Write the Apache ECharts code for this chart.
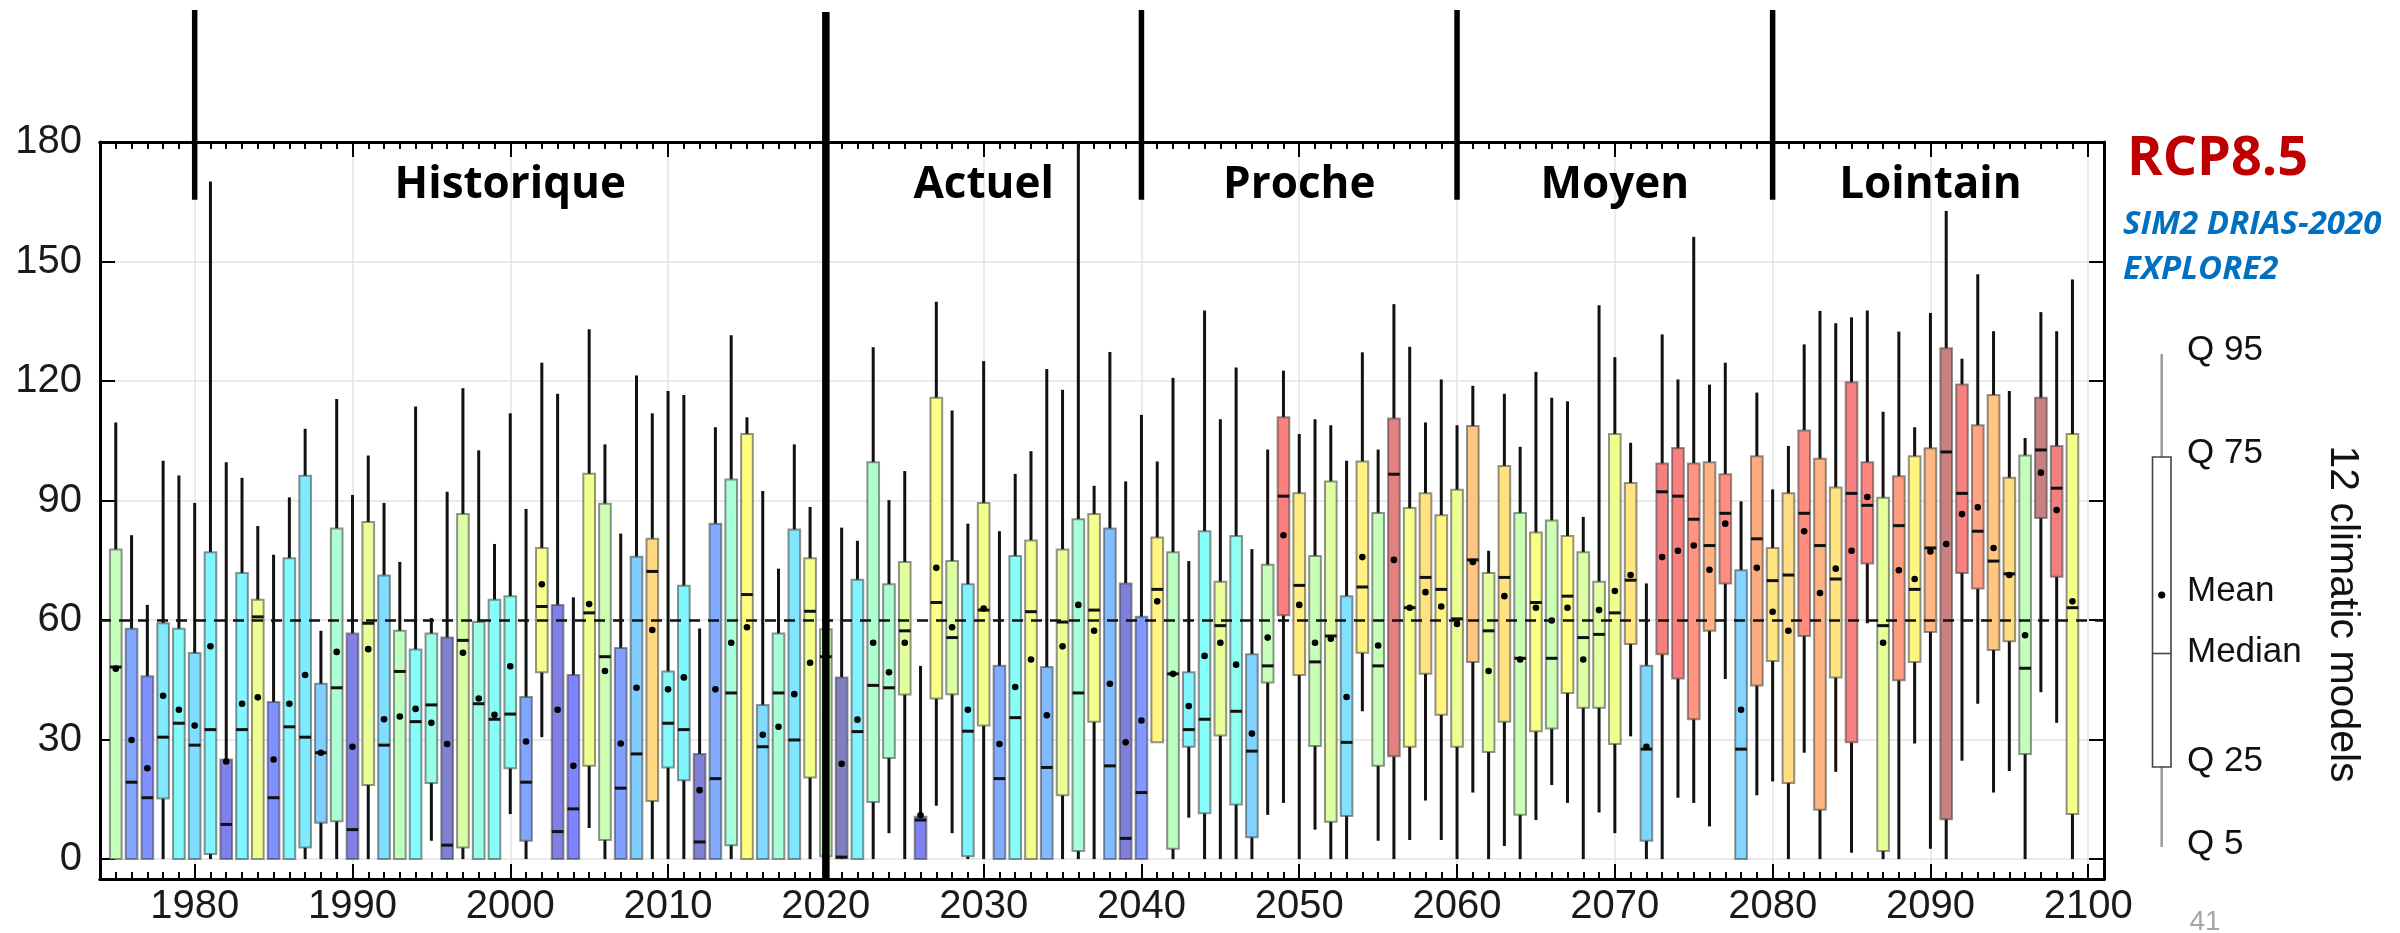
<!DOCTYPE html>
<html>
<head>
<meta charset="utf-8">
<title>RCP8.5 - 12 climatic models</title>
<script src="https://cdn.jsdelivr.net/npm/echarts@6/dist/echarts.min.js"></script>
<style>
  html, body { margin: 0; padding: 0; background: #fff; }
  #chart { width: 2400px; height: 933px; }
</style>
</head>
<body>
<div id="chart"></div>
<script>
// one box per year, starting at firstYear
var firstYear = 1975

var q5 = [
  0, 0, 0, 0, 0, 0, 0, 0, 0, 0,
  0, 0, 0, 0, 0, 0, 0, 0, 0, 0,
  4.6, 0, 0, 0, 0, 11.3, 0, 30.6, 0, 0,
  7.8, 0, 0, 0, 0, 0, 0, 0, 0, 0,
  0, 0, 0, 0, 0, 0, 0, 0, 0, 6.5,
  0, 0, 13.4, 6.5, 0, 0, 0, 0, 0, 0,
  0, 0, 0, 0, 0, 0, 29.3, 0, 10.4, 0,
  0, 0, 0, 11.1, 14.1, 0, 7.4, 0, 0, 37.1,
  4.6, 0, 4.8, 14.7, 4.8, 0, 16.7, 0, 3.3, 0,
  9.8, 18.6, 14.1, 0, 11.7, 6.5, 30.8, 0, 0, 15.4,
  14.1, 8.2, 45.2, 0, 16, 19.5, 0, 26.7, 0, 21.9,
  1.6, 59.2, 0, 0, 29, 2.6, 0, 24.7, 39, 16.7,
  22.1, 0, 41.9, 34.2, 0
]
var q25 = [
  0, 0, 0, 15.2, 0, 0, 1.3, 0, 0, 0,
  0, 0, 2.9, 9.1, 9.5, 0, 18.6, 0, 0, 0,
  19.1, 0, 2.9, 0, 0, 22.8, 4.6, 46.9, 0, 0,
  23.4, 4.8, 0, 0, 14.6, 23, 19.8, 0, 0, 3.5,
  0, 0, 0, 0, 20.5, 0.7, 0.2, 0, 14.3, 25.4,
  41.3, 0, 40.3, 41.4, 0.7, 33.5, 0, 0, 0, 0,
  16, 2, 34.5, 0, 0, 0, 29.3, 2.6, 28.2, 11.5,
  31, 13.7, 5.5, 44.3, 61.2, 46.2, 28.4, 9.4, 10.8, 51.8,
  23.4, 25.8, 28.2, 46.5, 36.2, 28.2, 49.5, 26.9, 34.5, 11.1,
  32.1, 32.8, 41.7, 38, 38, 28.9, 54, 4.6, 51.4, 45.3,
  35.1, 57.3, 69.2, 0, 43.6, 49.7, 19.1, 56, 12.4, 45.6,
  29.3, 74.2, 2, 44.9, 49.5, 57, 10, 71.8, 67.9, 52.5,
  54.7, 26.4, 85.6, 70.9, 11.3
]
var median = [
  48.2, 19.3, 15.4, 30.6, 34.1, 28.6, 32.5, 8.7, 32.5, 60.8,
  15.4, 33.2, 30.6, 26.7, 43, 7.4, 59.2, 28.6, 47.1, 34.5,
  38.7, 3.5, 54.9, 39, 35.1, 36.4, 19.3, 63.4, 6.9, 12.6,
  61.8, 50.8, 17.8, 26.4, 72.2, 34.1, 32.5, 4.3, 20.2, 41.7,
  66.4, 28.2, 41.7, 29.9, 62.2, 50.8, 0.5, 32, 43.6, 43,
  57.3, 9.8, 64.4, 55.6, 32.1, 62.5, 20.2, 35.5, 62.1, 23,
  59.5, 41.7, 62.5, 23.4, 5.2, 16.7, 67.7, 46.5, 32.5, 35.1,
  58.6, 37.1, 27.1, 48.5, 91.1, 68.7, 49.5, 56, 29.3, 68.3,
  48.5, 96.6, 63.1, 70.7, 67.7, 60.3, 75.1, 57.3, 70.7, 50.4,
  64.4, 50.4, 66, 55.6, 56.4, 61.8, 70, 27.6, 92.2, 91.1,
  85.3, 78.7, 86.8, 27.6, 80.4, 69.9, 71.3, 86.8, 78.7, 70.3,
  91.8, 88.8, 58.6, 83.7, 67.7, 78.1, 102.2, 91.8, 82.3, 74.8,
  71.6, 47.9, 102.7, 93.1, 63.1
]
var mean = [
  47.8, 29.9, 22.8, 41, 37.5, 33.5, 53.4, 24.5, 39, 40.6,
  25, 39, 46.2, 26.7, 52, 28.2, 52.7, 35.1, 35.8, 37.7,
  34.2, 28.9, 51.8, 40.3, 36.2, 48.4, 29.5, 69, 37.5, 23.4,
  64, 47.2, 29, 43, 57.5, 42.6, 45.6, 17.3, 42.6, 54.3,
  58.2, 31.2, 33.2, 41.4, 49.3, 36.2, 23.9, 35, 54.3, 46.9,
  54.3, 11, 73.1, 58.2, 37.5, 62.9, 28.9, 43.2, 50.1, 36.1,
  53.4, 63.8, 57.3, 44, 29.3, 34.8, 64.7, 46.5, 38.4, 51,
  54.3, 48.8, 31.5, 55.6, 81.3, 63.8, 54.3, 55.3, 40.7, 75.8,
  53.6, 75.1, 63.1, 67, 63.4, 59, 74.6, 47.2, 66, 50.1,
  63.1, 59.9, 63.1, 50.1, 62.5, 67.3, 71.3, 28.2, 75.8, 77.4,
  78.7, 72.6, 84.2, 37.5, 73.1, 62.1, 57.3, 82.3, 66.8, 72.9,
  77.4, 90.9, 54.3, 72.5, 70.3, 77.2, 79.1, 86.6, 88.3, 78.1,
  71.3, 56.2, 97, 87.6, 64.7
]
var q75 = [
  77.7, 57.8, 45.9, 59.2, 57.8, 51.7, 77, 25, 71.8, 65.1,
  39.4, 75.5, 96.2, 44, 83, 56.6, 84.6, 71.2, 57.3, 52.6,
  56.6, 55.6, 86.6, 59.5, 65.1, 66, 40.7, 78.1, 63.8, 46.2,
  96.7, 89.2, 53, 75.9, 80.4, 47.1, 68.6, 26.4, 84.2, 95.3,
  106.7, 38.7, 56.6, 82.7, 75.5, 57.7, 45.6, 70.1, 99.6, 69,
  74.6, 10.6, 115.8, 74.8, 69, 89.4, 48.5, 76.1, 80, 48.2,
  77.7, 85.3, 86.6, 83, 69.2, 60.8, 80.7, 77, 46.9, 82.3,
  69.6, 81.1, 51.4, 73.9, 110.9, 91.8, 76.1, 94.8, 66, 99.8,
  86.9, 110.6, 88.1, 91.8, 86.3, 92.7, 108.7, 71.8, 98.7, 86.9,
  82, 85, 81.1, 77, 69.6, 106.7, 94.4, 48.5, 99.3, 103.2,
  99.3, 99.6, 96.6, 72.5, 101.1, 78.1, 91.8, 107.6, 100.5, 93.3,
  119.7, 99.6, 90.7, 96.1, 101.1, 103.1, 128.2, 119.1, 108.9, 116.5,
  95.7, 101.3, 115.8, 103.7, 106.7
]
var q95 = [
  109.6, 81.3, 63.8, 100, 96.3, 89.4, 170.1, 99.6, 95.7, 83.6,
  76.4, 90.8, 108, 57.3, 115.5, 91.4, 101.3, 89.4, 74.6, 113.6,
  60.5, 92.2, 118.2, 102.6, 79.1, 111.9, 87.9, 124.6, 116.8, 65.7,
  133, 104.1, 81.7, 121.4, 111.9, 117.5, 116.5, 57.9, 108.4, 131.5,
  110.9, 92.4, 72.9, 104.1, 88.4, 70, 83.2, 79.9, 128.5, 90.1,
  97.4, 48.5, 139.9, 112.6, 84.2, 125, 82.3, 96.7, 102.4, 123,
  117.8, 180, 93.7, 127.3, 94.8, 111.5, 99.8, 120.8, 74.8, 137.7,
  110.4, 123.4, 77.8, 102.8, 122.6, 106.7, 110.4, 108.9, 100, 127.2,
  102.8, 139.3, 128.6, 109.6, 120.4, 108.9, 118.8, 77.4, 116.8, 103.5,
  122.3, 115.8, 114.9, 85.9, 139, 126, 104.5, 69.2, 131.7, 120.4,
  156.2, 119.1, 124.6, 89.8, 117.1, 92.8, 103.7, 129.2, 137.6, 134.5,
  136, 137.7, 112.3, 132.4, 108.4, 137.1, 162.7, 125.6, 146.8, 132.5,
  117.5, 105.7, 137.3, 132.5, 145.5
]

var decadeTicks = [1980, 1990, 2000, 2010, 2020, 2030, 2040, 2050, 2060, 2070, 2080, 2090, 2100]
var yTicks = [0, 30, 60, 90, 120, 150, 180]
var yGrid = [0, 30, 60, 90, 120, 150]
var refLevel = 60

var periodBounds = [1980, 2020, 2040, 2060, 2080]
var periodNames = ['Historique', 'Actuel', 'Proche', 'Moyen', 'Lointain']
var periodCenters = [2000, 2030, 2050, 2070, 2090]

var legendLabels = ['Q 95', 'Q 75', 'Mean', 'Median', 'Q 25', 'Q 5']

var years = q5.map(function(v, i) { return firstYear + i })
var yearTicks = years.concat([years[years.length - 1] + 1])
var boxData = years.map(function(y, i) {
  return [y, q5[i], q25[i], median[i], mean[i], q75[i], q95[i]]
})

var AX_FONT = '"Liberation Sans", Arial, sans-serif'
var TXT_FONT = '"Open Sans", "Noto Sans", sans-serif'

// jet-like colour ramp, washed with white, keyed on the median
var rampAt = [0, 12, 24, 34, 47, 66, 76, 90, 105]
var rampRgb = [[0, 0, 0.5], [0, 0, 1], [0, 0.5, 1], [0, 1, 1], [0.5, 1, 0.5], [1, 1, 0], [1, 0.5, 0], [1, 0, 0], [0.5, 0, 0]]
function rampColor(v) {
  var i = 0
  while (i < rampAt.length - 2 && v > rampAt[i + 1]) i++
  var t = Math.max(0, Math.min(1, (v - rampAt[i]) / (rampAt[i + 1] - rampAt[i])))
  var c = rampRgb[i].map(function(a, k) { return a + (rampRgb[i + 1][k] - a) * t })
  return 'rgb(' + c.map(function(a) { return Math.round(255 * (0.5 + 0.5 * a)) }).join(',') + ')'
}
var rampColors = []
for (var v = 0; v <= 105; v += 3) rampColors.push(rampColor(v))

function xAxisDef(pos, ticks, len, withLabels) {
  return {
    type: 'value',
    position: pos,
    min: 1974,
    max: 2101,
    axisLine: { show: true, onZero: false, lineStyle: { color: '#000', width: 3 } },
    axisTick: { show: true, inside: true, length: len, customValues: ticks, lineStyle: { color: '#000', width: 2 } },
    axisLabel: withLabels
      ? {
          show: true,
          customValues: decadeTicks,
          formatter: function(v) { return String(v) },
          fontSize: 40,
          fontFamily: AX_FONT,
          color: '#1a1a1a',
          margin: 8
        }
      : { show: false },
    splitLine: { show: false }
  }
}

function yAxisDef(pos, withLabels) {
  return {
    type: 'value',
    position: pos,
    min: -5,
    max: 180,
    axisLine: { show: true, onZero: false, lineStyle: { color: '#000', width: 3 } },
    axisTick: { show: true, inside: true, length: 15, customValues: yTicks, lineStyle: { color: '#000', width: 2 } },
    axisLabel: withLabels
      ? { show: true, customValues: yTicks, fontSize: 40, fontFamily: AX_FONT, color: '#1a1a1a', margin: 18 }
      : { show: false },
    splitLine: { show: false }
  }
}

var chart = echarts.init(document.getElementById('chart'))

var option = {
  animation: false,
  backgroundColor: '#fff',
  grid: { left: 100, right: 296, top: 142, bottom: 54, containLabel: false },
  xAxis: [
    xAxisDef('bottom', decadeTicks, 15, true),
    xAxisDef('bottom', yearTicks, 7, false),
    xAxisDef('top', decadeTicks, 15, false),
    xAxisDef('top', yearTicks, 7, false)
  ],
  yAxis: [yAxisDef('left', true), yAxisDef('right', false)],
  visualMap: {
    show: false,
    type: 'continuous',
    seriesIndex: 1,
    dimension: 3,
    min: 0,
    max: 105,
    inRange: { color: rampColors }
  },
  series: [
    {
      type: 'line',
      data: [],
      z: 1,
      silent: true,
      markLine: {
        z: 0,
        silent: true,
        symbol: 'none',
        label: { show: false },
        lineStyle: { color: '#e3e3e3', width: 1.5, type: 'solid' },
        data: decadeTicks.map(function(v) { return { xAxis: v } })
          .concat(yGrid.map(function(v) { return { yAxis: v } }))
      }
    },
    {
      type: 'custom',
      z: 2,
      clip: true,
      encode: { x: 0, y: [1, 2, 3, 4, 5, 6] },
      data: boxData,
      renderItem: function(params, api) {
        var x = api.value(0)
        var pTop = api.coord([x, api.value(6)])
        var p75 = api.coord([x, api.value(5)])
        var p25 = api.coord([x, api.value(2)])
        var pBot = api.coord([x, api.value(1)])
        var pMed = api.coord([x, api.value(3)])
        var pMean = api.coord([x, api.value(4)])
        var w = api.size([1, 0])[0] * 0.74
        var cx = pTop[0]
        return {
          type: 'group',
          children: [
            { type: 'line', shape: { x1: cx, y1: pTop[1], x2: cx, y2: p75[1] }, style: { stroke: '#111', lineWidth: 3 } },
            { type: 'line', shape: { x1: cx, y1: p25[1], x2: cx, y2: pBot[1] }, style: { stroke: '#111', lineWidth: 3 } },
            {
              type: 'rect',
              shape: { x: cx - w / 2, y: p75[1], width: w, height: p25[1] - p75[1] },
              style: { fill: api.visual('color'), stroke: 'rgba(60,60,60,0.55)', lineWidth: 2 }
            },
            { type: 'line', shape: { x1: cx - w / 2, y1: pMed[1], x2: cx + w / 2, y2: pMed[1] }, style: { stroke: '#111', lineWidth: 3 } },
            { type: 'circle', shape: { cx: cx, cy: pMean[1], r: 3.3 }, style: { fill: '#000' } }
          ]
        }
      }
    },
    {
      type: 'line',
      data: [],
      z: 3,
      silent: true,
      markLine: {
        z: 10,
        silent: true,
        symbol: 'none',
        label: { show: false },
        lineStyle: { color: '#111', width: 2.5, type: [11, 8] },
        data: [{ yAxis: refLevel }]
      }
    }
  ]
}

chart.setOption(option)

// period dividers, period names and the legend on the right
function toPx(x, y) {
  return chart.convertToPixel({ xAxisIndex: 0, yAxisIndex: 0 }, [x, y])
}

var graphics = []
periodBounds.forEach(function(b) {
  var isNow = b === 2020
  var xp = toPx(b, 0)[0]
  var yEnd = isNow ? toPx(b, -5)[1] : toPx(b, 165.5)[1]
  graphics.push({
    type: 'line',
    z: 100,
    shape: { x1: xp, y1: isNow ? 12 : 10, x2: xp, y2: yEnd },
    style: { stroke: '#000', lineWidth: isNow ? 7.5 : 5.5 }
  })
})
periodNames.forEach(function(name, i) {
  var p = toPx(periodCenters[i], 169)
  graphics.push({
    type: 'text',
    z: 100,
    x: p[0],
    y: p[1],
    style: { text: name, font: 'bold 44px ' + TXT_FONT, fill: '#000', align: 'center', verticalAlign: 'middle' }
  })
})

graphics.push(
  { type: 'text', x: 2127, y: 160, style: { text: 'RCP8.5', font: 'bold 54px ' + TXT_FONT, fill: '#c00000', align: 'left', verticalAlign: 'middle' } },
  { type: 'text', x: 2123, y: 225, style: { text: 'SIM2 DRIAS-2020', font: 'italic bold 33px ' + TXT_FONT, fill: '#0070c0', align: 'left', verticalAlign: 'middle' } },
  { type: 'text', x: 2123, y: 270, style: { text: 'EXPLORE2', font: 'italic bold 33px ' + TXT_FONT, fill: '#0070c0', align: 'left', verticalAlign: 'middle' } },
  { type: 'line', shape: { x1: 2161.7, y1: 354, x2: 2161.7, y2: 847 }, style: { stroke: '#9a9a9a', lineWidth: 2.5 } },
  { type: 'rect', shape: { x: 2152.5, y: 457, width: 18.5, height: 310 }, style: { fill: '#fff', stroke: '#444', lineWidth: 1.6 } },
  { type: 'line', shape: { x1: 2152.5, y1: 653.5, x2: 2171, y2: 653.5 }, style: { stroke: '#444', lineWidth: 1.6 } },
  { type: 'circle', shape: { cx: 2161.7, cy: 595, r: 3.6 }, style: { fill: '#000' } },
  { type: 'text', x: 2342, y: 614, rotation: -Math.PI / 2, style: { text: '12 climatic models', font: '41px ' + AX_FONT, fill: '#111', align: 'center', verticalAlign: 'middle' } },
  { type: 'text', x: 2205, y: 922, style: { text: '41', font: '28px ' + AX_FONT, fill: '#a6a6a6', align: 'center', verticalAlign: 'middle' } }
)
var legendY = [350, 453, 591.5, 652.6, 761.5, 844]
legendLabels.forEach(function(t, i) {
  graphics.push({
    type: 'text',
    x: 2187,
    y: legendY[i],
    style: { text: t, font: '35px ' + AX_FONT, fill: '#111', align: 'left', verticalAlign: 'middle' }
  })
})

chart.setOption({ graphic: graphics })
</script>
</body>
</html>
